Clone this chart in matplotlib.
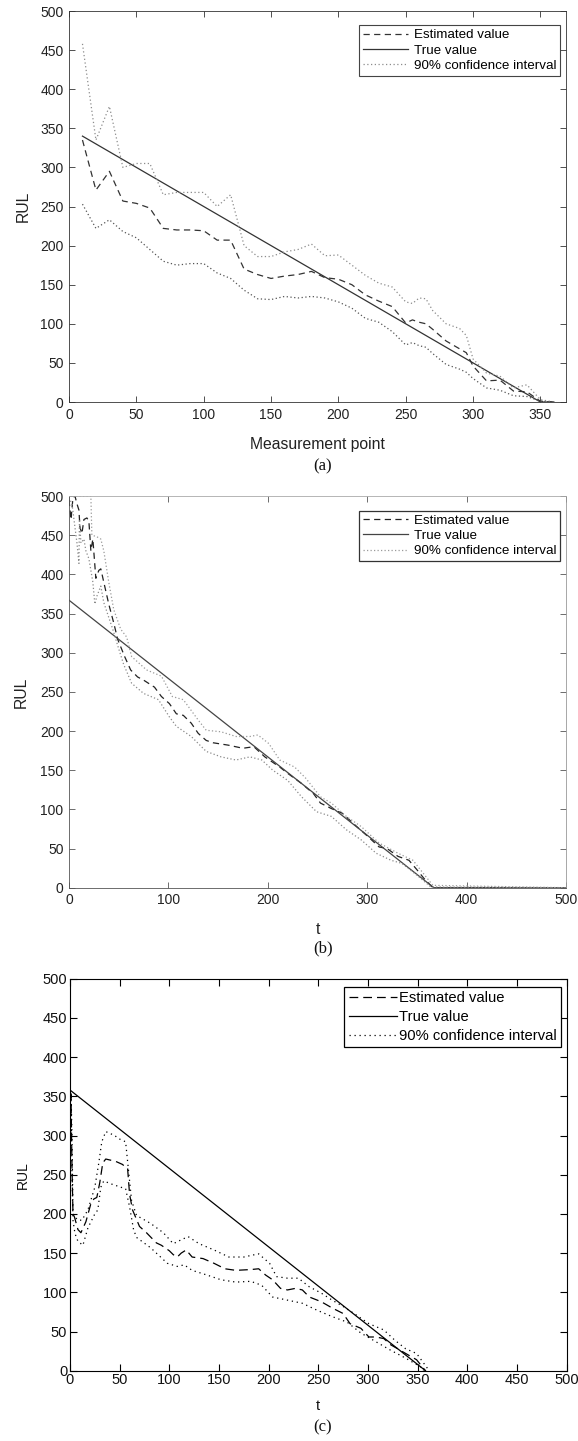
import matplotlib
matplotlib.use("Agg")
import matplotlib.pyplot as plt
from matplotlib import font_manager

# ---------------- data ----------------
# Panel (a)
a_x = [10, 20, 30, 40, 50, 60, 70, 80, 90, 100, 110, 120, 130, 140, 150, 160, 170, 180, 190, 200,
       210, 220, 230, 240, 250, 255, 260, 265, 270, 280, 290, 295, 300, 310, 320, 330, 340, 350, 360]
a_est = [335, 271, 295, 257, 254, 248, 222, 220, 220, 219, 207, 207, 170, 163, 158, 161, 163, 167, 159, 157,
         150, 137, 129, 122, 101, 105, 102, 100, 93, 78, 68, 63, 46, 27, 28, 14, 13, 1, 0]
a_true = [340, 330, 320, 310, 300, 290, 280, 270, 260, 250, 240, 230, 220, 210, 200, 190, 180, 170, 160, 150,
          140, 130, 120, 110, 100, 95, 90, 85, 80, 70, 60, 55, 50, 40, 30, 20, 10, 0, 0]
a_up = [458, 335, 378, 300, 305, 305, 265, 268, 268, 268, 250, 265, 200, 186, 186, 192, 195, 202, 187, 188,
        175, 162, 152, 147, 128, 126, 133, 132, 117, 100, 94, 85, 55, 37, 33, 18, 22, 3, 0]
a_lo = [253, 222, 233, 218, 210, 195, 180, 175, 177, 177, 165, 158, 143, 132, 131, 135, 133, 135, 133, 128,
        120, 107, 102, 90, 73, 76, 72, 70, 62, 48, 42, 38, 30, 18, 15, 8, 7, 1, 0]

# Panel (b)
b_est_t = [0, 2, 4, 6, 8, 10, 11, 13, 15, 18, 20, 22, 24, 27, 30, 32, 35, 40, 45, 49, 56, 62, 69, 75, 86,
           93, 101, 108, 115, 123, 130, 138, 145, 160, 175, 186, 197, 212, 220, 234, 246, 253, 264, 275,
           286, 301, 312, 320, 331, 342, 350, 357, 366, 500]
b_est = [495, 470, 498, 500, 490, 482, 460, 452, 470, 472, 468, 430, 445, 395, 405, 407, 390, 362, 338, 317,
         295, 278, 269, 265, 256, 244, 235, 222, 220, 210, 197, 188, 185, 182, 178, 180, 167, 154, 146, 133,
         120, 108, 101, 95, 82, 65, 52, 50, 40, 35, 23, 12, 0, 0]
b_true_t = [0, 367, 500]
b_true = [367, 0, 0]
b_up_t = [0, 10, 20, 22, 23, 28, 32, 35, 40, 45, 52, 58, 63, 78, 93, 104, 115, 130, 138, 153, 168, 182,
          190, 201, 212, 227, 238, 253, 264, 279, 294, 312, 331, 346, 366, 500]
b_up = [500, 500, 500, 500, 450, 448, 445, 430, 390, 355, 330, 320, 295, 278, 270, 244, 240, 214, 201, 199,
        193, 193, 195, 184, 163, 154, 140, 116, 108, 91, 78, 57, 44, 35, 3, 0]
b_lo_t = [0, 3, 5, 8, 10, 10.5, 12, 15, 17, 20, 24, 26, 28, 32, 35, 40, 44, 50, 55, 63, 75, 90, 101, 108,
          123, 138, 153, 168, 182, 194, 205, 220, 234, 249, 264, 279, 294, 309, 324, 335, 350, 364, 500]
b_lo = [498, 490, 470, 440, 414, 470, 440, 445, 430, 420, 390, 362, 372, 385, 364, 345, 330, 305, 285, 261,
        248, 240, 218, 206, 193, 174, 167, 163, 167, 163, 150, 137, 116, 97, 91, 74, 61, 44, 35, 31, 16, 1, 0]

# Panel (c)
c_est_t = [0, 1, 2, 3, 4.5, 8, 11, 16, 21, 24, 27, 30, 33, 36, 46, 53, 56, 58, 60, 63, 70, 77, 87, 92, 100,
           104, 108, 112, 117, 123, 134, 145, 156, 167, 182, 190, 197, 204, 212, 219, 227, 234, 241, 253,
           264, 275, 282, 293, 301, 308, 316, 323, 330, 338, 349, 356, 358]
c_est = [330, 352, 260, 200, 196, 180, 176, 190, 213, 219, 221, 240, 265, 270, 267, 263, 259, 258, 225, 205,
         184, 176, 163, 160, 153, 148, 145, 150, 154, 145, 143, 137, 130, 128, 129, 130, 122, 116, 105, 103,
         105, 103, 94, 88, 80, 73, 60, 54, 43, 43, 41, 33, 28, 22, 14, 3, 0]
c_true_t = [0, 358]
c_true = [358, 0]
c_up_t = [0, 1, 2, 3, 5, 8, 12, 18, 25, 29, 32, 36, 45, 49, 56, 58, 62, 67, 81, 94, 104, 112, 119, 130, 145,
          160, 175, 186, 190, 201, 208, 219, 230, 241, 253, 264, 275, 286, 301, 316, 327, 338, 349, 360]
c_up = [340, 356, 300, 200, 196, 192, 192, 205, 234, 265, 292, 305, 300, 296, 292, 267, 217, 198, 188, 176,
        162, 167, 171, 162, 154, 145, 145, 148, 149, 137, 120, 118, 118, 107, 99, 90, 82, 73, 60, 52, 39, 28,
        22, 3]
c_lo_t = [0, 1, 2, 3, 5, 8, 13, 18, 25, 28, 31, 34, 42, 56, 60, 64, 67, 81, 98, 108, 115, 123, 138, 152, 167,
          182, 193, 204, 219, 234, 249, 264, 279, 293, 308, 323, 338, 353, 356]
c_lo = [230, 345, 250, 192, 175, 165, 160, 182, 200, 205, 234, 242, 238, 232, 209, 180, 170, 157, 137, 133,
        135, 128, 122, 116, 113, 114, 109, 94, 90, 86, 77, 69, 62, 48, 37, 26, 16, 5, 0]

labels = ["Estimated value", "True value", "90% confidence interval"]
yticks = [0, 50, 100, 150, 200, 250, 300, 350, 400, 450, 500]
a_xticks = [0, 50, 100, 150, 200, 250, 300, 350]
b_xticks = [0, 100, 200, 300, 400, 500]
c_xticks = [0, 50, 100, 150, 200, 250, 300, 350, 400, 450, 500]

# ---------------- fonts ----------------
installed = {f.name for f in font_manager.fontManager.ttflist}
SANS = "Liberation Sans"
NARROW = "Liberation Sans Narrow" if "Liberation Sans Narrow" in installed else "Liberation Sans"
SERIF = "Liberation Serif"

fig = plt.figure(figsize=(5.78, 14.41), dpi=100)
W, H = 578.0, 1441.0


def rect(l, r, t, b):
    return [l / W, 1 - b / H, (r - l) / W, (b - t) / H]


def style_axes(ax, col, tickcol, lw, fam, tsize):
    for s in ax.spines.values():
        s.set_color(col)
        s.set_linewidth(lw)
    ax.tick_params(direction="in", length=4, width=lw, top=True, right=True,
                   colors=col, labelcolor=tickcol, labelsize=tsize, pad=4)
    for lab in ax.get_xticklabels() + ax.get_yticklabels():
        lab.set_family(fam)


# ---------- (a) ----------
axa = fig.add_axes(rect(69, 566, 11, 402))
ha1, = axa.plot(a_x, a_est, color="#333333", lw=0.9, linestyle=(0, (5, 3.5)))
ha2, = axa.plot(a_x, a_true, color="#333333", lw=0.9)
ha3, = axa.plot(a_x, a_up, color="#8c8c8c", lw=0.9, linestyle=(0, (1, 2)))
axa.plot(a_x, a_lo, color="#555555", lw=0.9, linestyle=(0, (1, 2)))
axa.set_xlim(0, 369)
axa.set_ylim(0, 500)
axa.set_xticks(a_xticks)
axa.set_yticks(yticks)
style_axes(axa, "#333333", "#222222", 0.6, SANS, 10)
axa.set_xlabel("Measurement point", family=SANS, fontsize=11.3, color="#222222")
axa.xaxis.set_label_coords(0.5, -0.089)
axa.xaxis.label.set_va("top")
axa.set_ylabel("RUL", family=SANS, fontsize=11.3, color="#222222")
axa.yaxis.set_label_coords(-0.076, 0.5)
leg = axa.legend([ha1, ha2, ha3], labels, loc="upper right", bbox_to_anchor=(0.988, 0.964),
                 borderaxespad=0, fancybox=False, framealpha=1, edgecolor="#444444",
                 prop={"family": SANS, "size": 9.6}, handlelength=3.4, handletextpad=0.4,
                 labelspacing=0.21, borderpad=0.3)
leg.get_frame().set_linewidth(0.8)

# ---------- (b) ----------
axb = fig.add_axes(rect(69, 566, 496, 887.7))
hb1, = axb.plot(b_est_t, b_est, color="#222222", lw=0.9, linestyle=(0, (5, 3.5)))
hb2, = axb.plot(b_true_t, b_true, color="#444444", lw=0.9)
hb3, = axb.plot(b_up_t, b_up, color="#9a9a9a", lw=0.9, linestyle=(0, (1, 1.8)))
axb.plot(b_lo_t, b_lo, color="#8a8a8a", lw=0.9, linestyle=(0, (1, 1.8)))
axb.set_xlim(0, 500)
axb.set_ylim(0, 500)
axb.set_xticks(b_xticks)
axb.set_yticks(yticks)
style_axes(axb, "#555555", "#222222", 0.6, SANS, 10)
axb.spines["top"].set_color("#aaaaaa")
axb.spines["right"].set_color("#999999")
axb.set_xlabel("t", family=SANS, fontsize=11.3, color="#222222")
axb.xaxis.set_label_coords(0.5, -0.087)
axb.xaxis.label.set_va("top")
axb.set_ylabel("RUL", family=SANS, fontsize=11.3, color="#222222")
axb.yaxis.set_label_coords(-0.08, 0.5)
leg = axb.legend([hb1, hb2, hb3], labels, loc="upper right", bbox_to_anchor=(0.988, 0.9625),
                 borderaxespad=0, fancybox=False, framealpha=1, edgecolor="#333333",
                 prop={"family": SANS, "size": 9.6}, handlelength=3.4, handletextpad=0.4,
                 labelspacing=0.21, borderpad=0.3)
leg.get_frame().set_linewidth(0.9)

# ---------- (c) ----------
axc = fig.add_axes(rect(70, 566.5, 978.7, 1370.7))
hc1, = axc.plot(c_est_t, c_est, color="black", lw=0.9, linestyle=(0, (7, 4)))
hc2, = axc.plot(c_true_t, c_true, color="black", lw=0.9)
hc3, = axc.plot(c_up_t, c_up, color="black", lw=0.9, linestyle=(0, (1, 3)))
axc.plot(c_lo_t, c_lo, color="black", lw=0.9, linestyle=(0, (1, 3)))
axc.set_xlim(0, 500)
axc.set_ylim(0, 500)
axc.set_xticks(c_xticks)
axc.set_yticks(yticks)
style_axes(axc, "black", "#111111", 0.8, NARROW, 10.5)
axc.tick_params(length=5, pad=2)
axc.set_xlabel("t", family=SANS, fontsize=10.5, color="#111111")
axc.xaxis.set_label_coords(0.5, -0.073)
axc.xaxis.label.set_va("top")
axc.set_ylabel("RUL", family=SANS, fontsize=10, color="#111111")
axc.yaxis.set_label_coords(-0.08, 0.5)
leg = axc.legend([hc1, hc2, hc3], labels, loc="upper right", bbox_to_anchor=(0.989, 0.98),
                 borderaxespad=0, fancybox=False, framealpha=1, edgecolor="black",
                 prop={"family": SANS, "size": 10.6}, handlelength=3.3, handletextpad=0.1,
                 labelspacing=0.34, borderpad=0.3)
leg.get_frame().set_linewidth(0.9)

# ---------- captions ----------
for cap, yc in [("(a)", 466), ("(b)", 948), ("(c)", 1427)]:
    fig.text(323 / W, 1 - yc / H, cap, family=SERIF, fontsize=12, ha="center", va="center",
             color="#111111")

fig.savefig("out.png", dpi=100)
